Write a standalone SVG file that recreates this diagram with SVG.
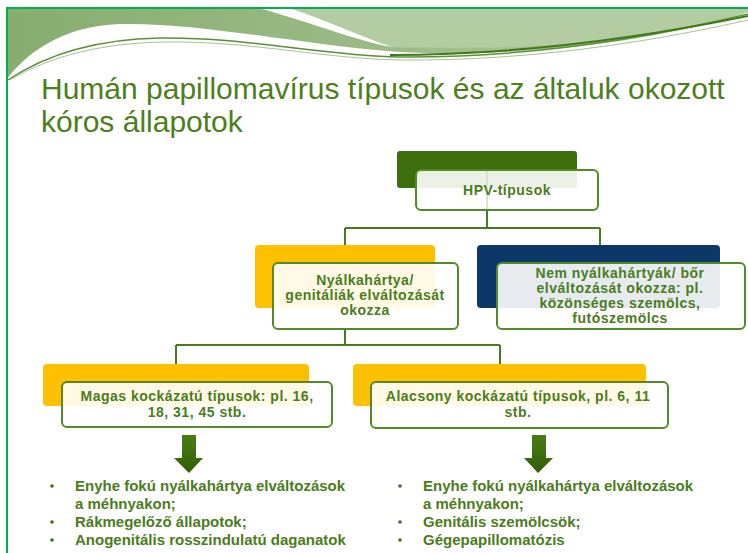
<svg xmlns="http://www.w3.org/2000/svg" width="748" height="553" viewBox="0 0 748 553">
<defs>
<linearGradient id="band" x1="0" y1="0" x2="1" y2="0">
<stop offset="0" stop-color="#87ad6f"/>
<stop offset="0.5" stop-color="#9cbb87"/>
<stop offset="1" stop-color="#b3cb9f"/>
</linearGradient>
<linearGradient id="arr" x1="0" y1="0" x2="0" y2="1">
<stop offset="0" stop-color="#4b7d14"/>
<stop offset="1" stop-color="#2f5f06"/>
</linearGradient>
<style>
.t{font-family:"Liberation Sans",Arial,sans-serif;font-weight:bold;font-size:14px;letter-spacing:0.5px;fill:#4a7d1b;text-anchor:middle}
.l{font-family:"Liberation Sans",Arial,sans-serif;font-weight:bold;font-size:15px;fill:#4a7d1b}
.front{fill:#ffffff;fill-opacity:0.9;stroke:#548a26;stroke-width:2}
.conn{fill:none;stroke:#4a7a1e;stroke-width:2}
.bul{fill:#3f6f12}
</style>
</defs>
<rect x="0" y="0" width="748" height="553" fill="#ffffff"/>
<g id="header">
<path d="M6,9 H748 V12 C650,45 500,58 400,52 C300,45 200,22 120,24 C60,26 25,55 6,80 Z" fill="url(#band)"/>
<path d="M290,9 H748 V12 C680,36 560,52 392,47 C360,36 325,20 290,9 Z" fill="#b4cca1"/>
<path d="M262,9 L292,9 C325,20 360,36 392,47 C360,42 310,22 262,9 Z" fill="#ffffff"/>
<path d="M8,80 C50,52 100,39 160,38 C250,37 320,56 400,57 C520,58 640,40 748,14" fill="none" stroke="#5d8f3a" stroke-width="1.5"/>
<path d="M10,80 C52,55 104,43 165,42 C255,41 322,59 402,60 C522,61 642,44 748,20" fill="none" stroke="#a6c392" stroke-width="1"/>
<path d="M390,55 C520,55 640,38 748,16" fill="none" stroke="#3f7a1a" stroke-width="2"/>
<line x1="6" y1="8" x2="748" y2="8" stroke="#00b050" stroke-width="2"/>
<line x1="7" y1="8" x2="7" y2="553" stroke="#00b050" stroke-width="2"/>
</g>
<g id="title" font-family="'Liberation Sans',Arial,sans-serif" font-size="30" fill="#4b801c">
<text x="41" y="99">Humán papillomavírus típusok és az általuk okozott</text>
<text x="41" y="132">kóros állapotok</text>
</g>
<g id="connectors">
<path class="conn" d="M487,190 V228 M345,228 H600 M345,228 V245 M600,228 V245"/>
<path class="conn" d="M345,329 V345 M176,345 H500 M176,345 V364 M500,345 V364"/>
</g>
<g id="n_hpv">
<rect x="397" y="151" width="180" height="37" rx="3" fill="#3d6e0c"/>
<rect class="front" x="416" y="170" width="182" height="40" rx="5"/>
<line x1="487" y1="170" x2="487" y2="210" stroke="#4a7a1e" stroke-width="2" stroke-opacity="0.12"/>
<text class="t" x="507" y="195">HPV-típusok</text>
</g>
<g id="n_nyalka">
<rect x="255" y="245" width="180" height="63" rx="4" fill="#ffc000"/>
<rect class="front" x="273" y="263" width="185" height="66" rx="5"/>
<text class="t" x="365" y="285">Nyálkahártya/</text>
<text class="t" x="365" y="300">genitáliák elváltozását</text>
<text class="t" x="365" y="315">okozza</text>
</g>
<g id="n_bor">
<rect x="477" y="245" width="243" height="63" rx="4" fill="#0b3868"/>
<rect class="front" x="497" y="263" width="248" height="66" rx="5"/>
<text class="t" x="620" y="278">Nem nyálkahártyák/ bőr</text>
<text class="t" x="620" y="293">elváltozását okozza: pl.</text>
<text class="t" x="620" y="308">közönséges szemölcs,</text>
<text class="t" x="620" y="323">futószemölcs</text>
</g>
<g id="n_magas">
<rect x="43" y="364" width="266" height="42" rx="4" fill="#ffc000"/>
<rect class="front" x="62" y="382" width="270" height="45" rx="5"/>
<text class="t" x="197" y="401">Magas kockázatú típusok: pl. 16,</text>
<text class="t" x="197" y="417">18, 31, 45 stb.</text>
</g>
<g id="n_alacsony">
<rect x="353" y="364" width="293" height="42" rx="4" fill="#ffc000"/>
<rect class="front" x="371" y="382" width="297" height="46" rx="5"/>
<text class="t" x="518" y="401">Alacsony kockázatú típusok, pl. 6, 11</text>
<text class="t" x="518" y="417">stb.</text>
</g>
<g id="arrow1">
<path d="M182,435 H196 V458 H203 L189,473 L174,458 H182 Z" fill="url(#arr)"/>
</g>
<g id="arrow2">
<path d="M532,435 H546 V458 H553 L538,473 L524,458 H532 Z" fill="url(#arr)"/>
</g>
<g id="list1">
<circle class="bul" cx="52" cy="486" r="1.8"/>
<circle class="bul" cx="52" cy="522" r="1.8"/>
<circle class="bul" cx="52" cy="540" r="1.8"/>
<text class="l" x="75" y="491">Enyhe fokú nyálkahártya elváltozások</text>
<text class="l" x="75" y="509">a méhnyakon;</text>
<text class="l" x="75" y="527">Rákmegelőző állapotok;</text>
<text class="l" x="75" y="545">Anogenitális rosszindulatú daganatok</text>
</g>
<g id="list2">
<circle class="bul" cx="400" cy="486" r="1.8"/>
<circle class="bul" cx="400" cy="522" r="1.8"/>
<circle class="bul" cx="400" cy="540" r="1.8"/>
<text class="l" x="423" y="491">Enyhe fokú nyálkahártya elváltozások</text>
<text class="l" x="423" y="509">a méhnyakon;</text>
<text class="l" x="423" y="527">Genitális szemölcsök;</text>
<text class="l" x="423" y="545">Gégepapillomatózis</text>
</g>
</svg>
